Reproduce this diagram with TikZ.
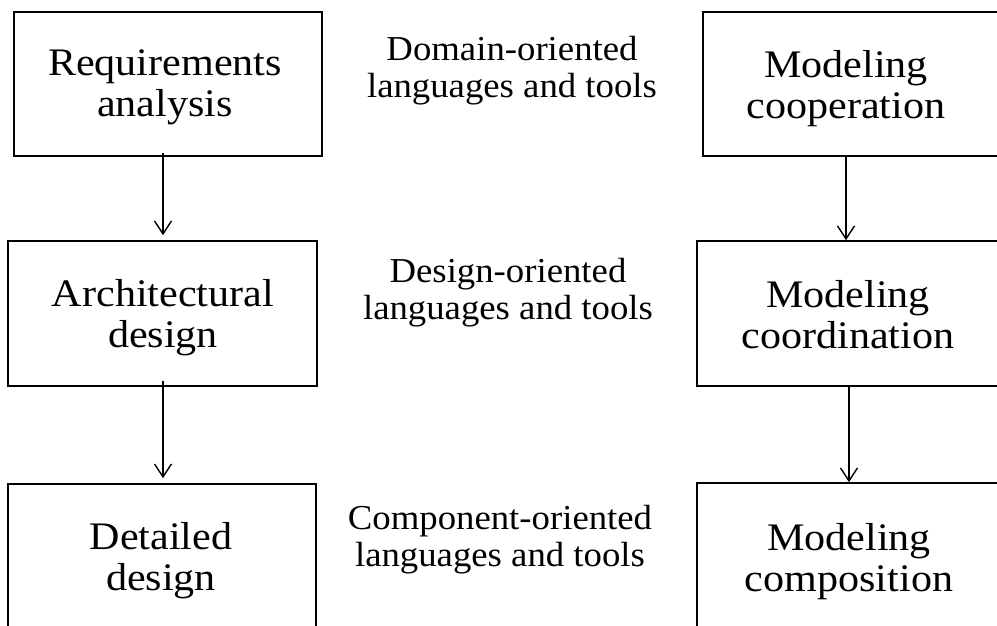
\documentclass[tikz,border=0pt]{standalone}
\usepackage{fontspec}
\setmainfont{Liberation Serif}
\newfontfamily\boxfont{Liberation Serif}[FakeStretch=1.08]
\newfontfamily\midfont{Liberation Serif}[FakeStretch=1.05]
\usetikzlibrary{arrows.meta}
\tikzset{
  box/.style={draw, line width=1.6pt, rectangle, inner sep=0pt},
  boxtext/.style={align=center, inner sep=0pt, anchor=base, font=\boxfont\fontsize{39}{41}\selectfont},
  midtext/.style={align=center, inner sep=0pt, anchor=base, font=\midfont\fontsize{35}{37}\selectfont},
  arr/.style={line width=1.4pt, -{Straight Barb[length=13pt,width=17pt,line width=1.4pt]}}
}
\begin{document}
\begin{tikzpicture}[x=1pt,y=-1pt]
\clip (0,0) rectangle (997,626);
\fill[white] (0,0) rectangle (997,626);
% boxes
\node[box, minimum width=308pt, minimum height=144pt] (ra) at (168,84) {};
\node[box, minimum width=309pt, minimum height=145pt] (ad) at (162.5,313.5) {};
\node[box, minimum width=308pt, minimum height=170pt] (dd) at (162,569) {};
\node[box, minimum width=320pt, minimum height=144pt] (mc1) at (863,84) {};
\node[box, minimum width=326pt, minimum height=145pt] (mc2) at (860,313.5) {};
\node[box, minimum width=326pt, minimum height=170pt] (mc3) at (860,568) {};
% box texts (anchor = baseline of last line)
\node[boxtext] (tra) at (165,117) {Requirements\\analysis};
\node[boxtext] (tad) at (163,347) {Architectural\\design};
\node[boxtext] (tdd) at (161,590) {Detailed\\design};
\node[boxtext] (tmc1) at (846,118) {Modeling\\cooperation};
\node[boxtext] (tmc2) at (848,348) {Modeling\\coordination};
\node[boxtext] (tmc3) at (849,591) {Modeling\\composition};
% middle texts
\node[midtext] (dom) at (512,98) {Domain-oriented\\languages and tools};
\node[midtext] (des) at (508,319) {Design-oriented\\languages and tools};
\node[midtext] (com) at (500,566) {Component-oriented\\languages and tools};
% arrows
\draw[arr] ([shift={(-5,-4)}]ra.south) -- ([shift={(0.5,-5)}]ad.north);
\draw[arr] ([shift={(0.5,-6)}]ad.south) -- ([shift={(1,-5)}]dd.north);
\draw[arr] ([shift={(-17,0)}]mc1.south) -- ([shift={(-14,0)}]mc2.north);
\draw[arr] ([shift={(-11,0)}]mc2.south) -- ([shift={(-11,0)}]mc3.north);
\end{tikzpicture}
\end{document}
